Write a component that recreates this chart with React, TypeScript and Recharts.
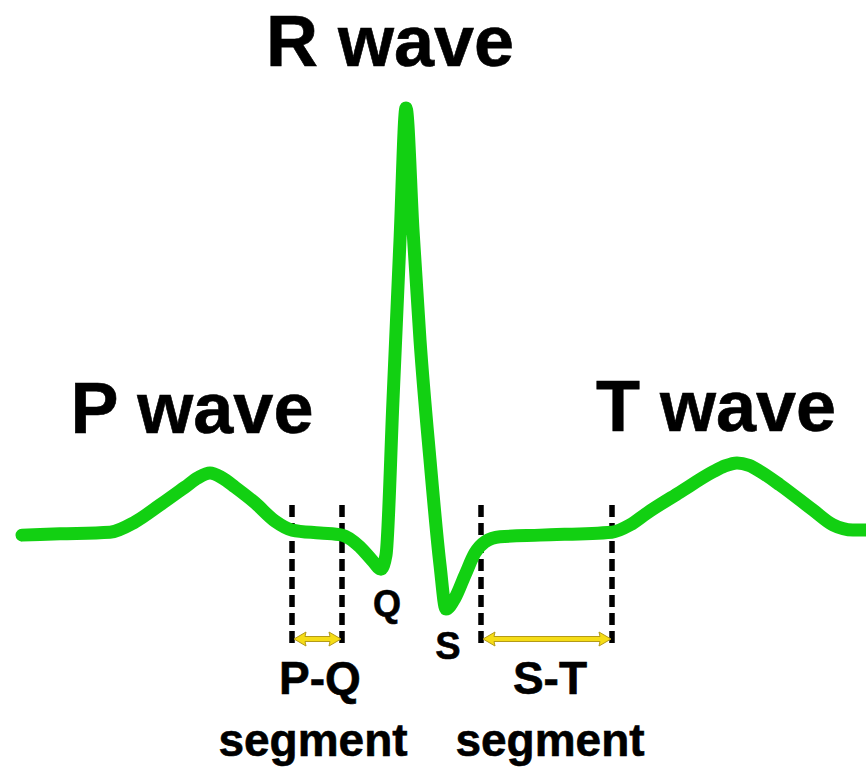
import React from "react";
import {
  ComposedChart,
  Line,
  XAxis,
  YAxis,
  ReferenceLine,
  ReferenceDot,
} from "recharts";

// one beat, time in ms, amplitude in mV (baseline = 0, R peak = 1)
const ecgTime = [
  22, 60, 110, 135, 160, 185, 198, 210, 222, 235, 255, 275, 292, 320, 342, 360,
  372, 381, 386, 393, 400, 406, 413, 420, 430, 440, 446, 455, 465, 475, 485,
  500, 540, 612, 630, 647, 680, 713, 725, 737, 749, 760, 780, 813, 833, 853,
  866,
];
const ecgMv = [
  -0.005, -0.002, 0.002, 0.026, 0.066, 0.108, 0.13, 0.141, 0.13, 0.108, 0.071,
  0.028, 0.007, 0.0, -0.005, -0.033, -0.064, -0.085, -0.052, 0.313, 0.689, 1.0,
  0.713, 0.454, 0.172, -0.075, -0.179, -0.153, -0.099, -0.047, -0.021, -0.009,
  -0.005, 0.002, 0.019, 0.047, 0.096, 0.144, 0.158, 0.165, 0.159, 0.145, 0.113,
  0.054, 0.019, 0.007, 0.007,
];

// segment boundaries (ms)
const pqSegment = [292, 342];
const stSegment = [481, 612];

const waveLabels = ["P wave", "R wave", "T wave"];
const pointLabels = ["Q", "S"];
const segmentLabels = ["P-Q", "S-T"];

const W = 866;
const H = 774;
const BASE_PX = 533;
const PX_PER_MV = 425;
const FONT = '"Liberation Sans", Arial, Helvetica, sans-serif';
const GREEN = "#12d012";

const data = ecgTime.map((t, i) => ({ t, mv: ecgMv[i] }));

const mvAt = (px: number) => (BASE_PX - px) / PX_PER_MV;

const textLabel = (text: string, size: number) => (props: any) => {
  const vb = props.viewBox || {};
  const x = (vb.x ?? vb.cx ?? 0) + (vb.width || 0) / 2;
  const y = (vb.y ?? vb.cy ?? 0) + (vb.height || 0) / 2;
  return (
    <text
      x={x}
      y={y}
      textAnchor="middle"
      fontSize={size}
      fontWeight="bold"
      fontFamily={FONT}
      fill="#000"
      stroke="#000"
      strokeWidth={0.6}
    >
      {text}
    </text>
  );
};

const DoubleArrow = (props: any) => {
  const { x1, y1, x2 } = props;
  const y = y1;
  const h = 2.5; // shaft half thickness
  const hl = 12; // head length
  const hw = 7; // head half width
  const pts = [
    [x1, y],
    [x1 + hl, y - hw],
    [x1 + hl - 1, y - h],
    [x2 - hl + 1, y - h],
    [x2 - hl, y - hw],
    [x2, y],
    [x2 - hl, y + hw],
    [x2 - hl + 1, y + h],
    [x1 + hl - 1, y + h],
    [x1 + hl, y + hw],
  ]
    .map((p) => p.join(","))
    .join(" ");
  return (
    <polygon
      points={pts}
      fill="#f5dc16"
      stroke="#b49a18"
      strokeWidth={1}
      strokeLinejoin="round"
    />
  );
};

// label anchors: [ms, px baseline, font size]
const labelLayout = {
  waves: [
    [192, 433, 72],
    [390, 66, 72],
    [716, 431, 72],
  ],
  points: [
    [387, 616, 36],
    [448, 659, 38],
  ],
  segments: [
    [320, 694, 46],
    [550, 694, 46],
  ],
  segWord: [
    [313, 756, 46],
    [550, 756, 46],
  ],
};

const DASH_TOP = 505;
const DASH_BOTTOM = 643;
const ARROW_Y = 639;

export default function App() {
  const bounds = [...pqSegment, ...stSegment];
  const spans = [pqSegment, stSegment];
  return (
    <div style={{ position: "absolute", left: 0, top: 0, background: "#fff" }}>
      <ComposedChart
        width={W}
        height={H}
        data={data}
        margin={{ top: 0, right: 0, bottom: 0, left: 0 }}
      >
        <XAxis
          dataKey="t"
          type="number"
          domain={[0, W]}
          hide
          allowDataOverflow
        />
        <YAxis
          type="number"
          domain={[-(H - BASE_PX) / PX_PER_MV, BASE_PX / PX_PER_MV]}
          hide
          allowDataOverflow
        />
        {bounds.map((x) => (
          <ReferenceLine
            key={`d${x}`}
            segment={[
              { x, y: mvAt(DASH_TOP) },
              { x, y: mvAt(DASH_BOTTOM) },
            ]}
            stroke="#000"
            strokeWidth={5.5}
            strokeDasharray="12 6"
            ifOverflow="visible"
          />
        ))}
        {spans.map(([a, b]) => (
          <ReferenceLine
            key={`a${a}`}
            segment={[
              { x: a + 2, y: mvAt(ARROW_Y) },
              { x: b - 1, y: mvAt(ARROW_Y) },
            ]}
            shape={DoubleArrow}
            ifOverflow="visible"
          />
        ))}
        <Line
          dataKey="mv"
          type="monotone"
          stroke={GREEN}
          strokeWidth={13}
          strokeLinecap="round"
          strokeLinejoin="round"
          dot={false}
          activeDot={false}
          isAnimationActive={false}
        />
        {waveLabels.map((s, i) => {
          const [x, py, size] = labelLayout.waves[i];
          return (
            <ReferenceDot
              key={s}
              x={x}
              y={mvAt(py)}
              r={0}
              fill="none"
              stroke="none"
              ifOverflow="visible"
              label={{ content: textLabel(s, size) }}
            />
          );
        })}
        {pointLabels.map((s, i) => {
          const [x, py, size] = labelLayout.points[i];
          return (
            <ReferenceDot
              key={s}
              x={x}
              y={mvAt(py)}
              r={0}
              fill="none"
              stroke="none"
              ifOverflow="visible"
              label={{ content: textLabel(s, size) }}
            />
          );
        })}
        {segmentLabels.map((s, i) => {
          const [x, py, size] = labelLayout.segments[i];
          const [x2, py2, size2] = labelLayout.segWord[i];
          return (
            <React.Fragment key={s}>
              <ReferenceDot
                x={x}
                y={mvAt(py)}
                r={0}
                fill="none"
                stroke="none"
                ifOverflow="visible"
                label={{ content: textLabel(s, size) }}
              />
              <ReferenceDot
                x={x2}
                y={mvAt(py2)}
                r={0}
                fill="none"
                stroke="none"
                ifOverflow="visible"
                label={{ content: textLabel("segment", size2) }}
              />
            </React.Fragment>
          );
        })}
      </ComposedChart>
    </div>
  );
}
